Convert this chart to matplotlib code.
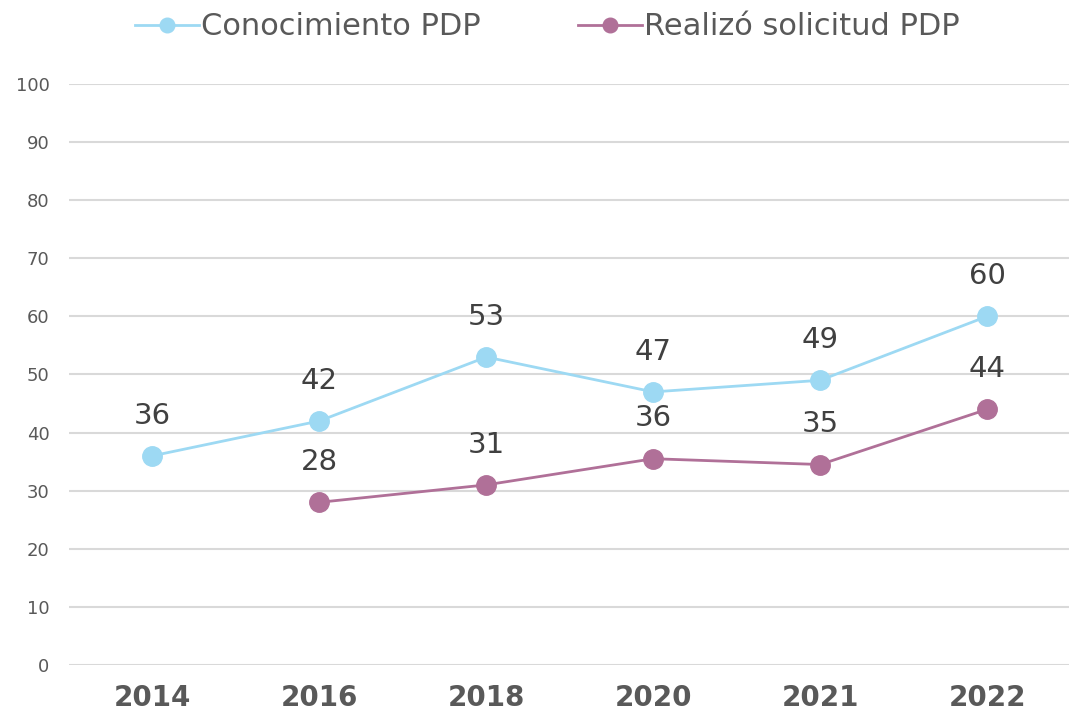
import numpy as np
import matplotlib.pyplot as plt

# datos
years = ["2014", "2016", "2018", "2020", "2021", "2022"]
conocimiento = [36, 42, 53, 47, 49, 60]
solicitud = [np.nan, 28, 31, 35.5, 34.5, 44]
conocimiento_lbl = ["36", "42", "53", "47", "49", "60"]
solicitud_lbl = ["", "28", "31", "36", "35", "44"]

c_blue = "#9DD9F3"
c_purple = "#B07098"

plt.rcParams['font.family'] = ['DejaVu Sans']

fig = plt.figure(figsize=(10.69, 7.2), dpi=100)
ax = fig.add_axes([0.0645, 0.0764, 0.937, 0.807])

x = np.arange(len(years))
ax.plot(x, conocimiento, color=c_blue, lw=2, marker='o', ms=14,
        label="Conocimiento PDP", zorder=3)
ax.plot(x, solicitud, color=c_purple, lw=2, marker='o', ms=14,
        label="Realizó solicitud PDP", zorder=3)

for xi, v, t in zip(x, conocimiento, conocimiento_lbl):
    ax.annotate(t, (xi, v), xytext=(0, 29), textcoords='offset points',
                ha='center', va='center', fontsize=21, color='#404040')
for xi, v, t in zip(x, solicitud, solicitud_lbl):
    if t:
        ax.annotate(t, (xi, v), xytext=(0, 29), textcoords='offset points',
                    ha='center', va='center', fontsize=21, color='#404040')

ax.set_xlim(-0.5, len(years) - 0.5)
ax.set_ylim(0, 100)
ax.set_yticks(range(0, 101, 10))
ax.set_xticks(x)
ax.set_xticklabels(years, fontsize=20, fontweight='heavy', color='#595959')
ax.tick_params(axis='y', labelsize=13, labelcolor='#595959', length=0, pad=14)
ax.tick_params(axis='x', length=0, pad=14)
ax.grid(axis='y', color='#D9D9D9', lw=1.5)
ax.set_axisbelow(True)
for s in ax.spines.values():
    s.set_visible(False)

fig.legend(loc='upper center', bbox_to_anchor=(0.512, 1.021), ncol=2, frameon=False,
           fontsize=22, labelcolor='#595959', handlelength=2.1, handletextpad=0.05,
           columnspacing=3.2, markerscale=0.75)

fig.savefig("out.png", dpi=100)
